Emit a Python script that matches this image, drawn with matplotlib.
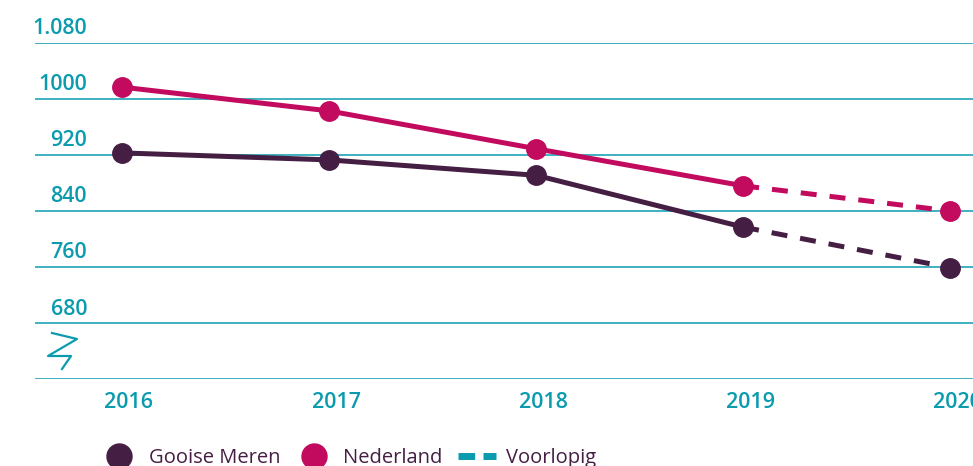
import matplotlib
matplotlib.use('Agg')
import matplotlib.pyplot as plt
from matplotlib.lines import Line2D

plt.rcParams['font.family'] = ['Open Sans', 'DejaVu Sans']

# data
years = [2016, 2017, 2018, 2019, 2020]
gooise = [923, 913, 891, 817, 759]
nederland = [1017, 983, 929, 876, 840]
n_final = 3  # index of last definitive year (2019), rest is voorlopig
yticks = [600, 680, 760, 840, 920, 1000, 1080]
ytick_labels = ['', '680', '760', '840', '920', '1000', '1.080']

teal = '#0b9bae'
purple = '#451e43'
magenta = '#c20a5e'

fig = plt.figure(figsize=(9.73, 4.66), dpi=100)
ax = fig.add_axes([35 / 973, 1 - 379 / 466, 1 - 35 / 973, (379 - 43) / 466])
ax.set_xlim(2015.58, 2020.11)
ax.set_ylim(600, 1080)

# gridlines
for y in yticks:
    ax.axhline(y, color=teal, lw=1.1, zorder=1)

# y labels sit above the lines
for y, lab in zip(yticks, ytick_labels):
    ax.annotate(lab, xy=(0, y), xycoords=('axes fraction', 'data'),
                xytext=(52, 14), textcoords='offset pixels',
                ha='right', va='center', color=teal, fontsize=15.5,
                fontweight='semibold', annotation_clip=False)

for series, col in [(gooise, purple), (nederland, magenta)]:
    ax.plot(years[:n_final + 1], series[:n_final + 1], color=col, lw=3.6,
            solid_capstyle='butt', zorder=3)
    ax.plot(years[n_final:], series[n_final:], color=col, lw=3.6,
            dashes=(3.2, 2.6), zorder=3)
    ax.plot(years, series, 'o', color=col, ms=14, zorder=4, clip_on=False)

# x labels
for yr in years:
    ax.annotate(str(yr), xy=(yr, 0), xycoords=('data', 'axes fraction'),
                xytext=(7, -23), textcoords='offset pixels',
                ha='center', va='center', color=teal, fontsize=15.5,
                fontweight='semibold', annotation_clip=False)

# axis break symbol
bx = [52, 77, 48, 71, 62]
by = [333, 339, 356, 356, 369]
fig.add_artist(Line2D([x / 973 for x in bx], [1 - y / 466 for y in by],
                      color=teal, lw=1.6))

for s in ax.spines.values():
    s.set_visible(False)
ax.set_xticks([])
ax.set_yticks([])

handles = [
    Line2D([], [], ls='none', marker='o', color=purple, ms=18),
    Line2D([], [], ls='none', marker='o', color=magenta, ms=18),
    Line2D([], [], color=teal, lw=5, dashes=(2.4, 1.2)),
]
fig.legend(handles, ['Gooise Meren', 'Nederland', 'Voorlopig'],
           loc='center left', bbox_to_anchor=(0.103, 0.018), ncol=3,
           frameon=False, fontsize=14.5, labelcolor=purple,
           handlelength=1.9, handletextpad=0.5, columnspacing=0.75,
           borderaxespad=0, borderpad=0)

fig.savefig('out.png', dpi=100)
